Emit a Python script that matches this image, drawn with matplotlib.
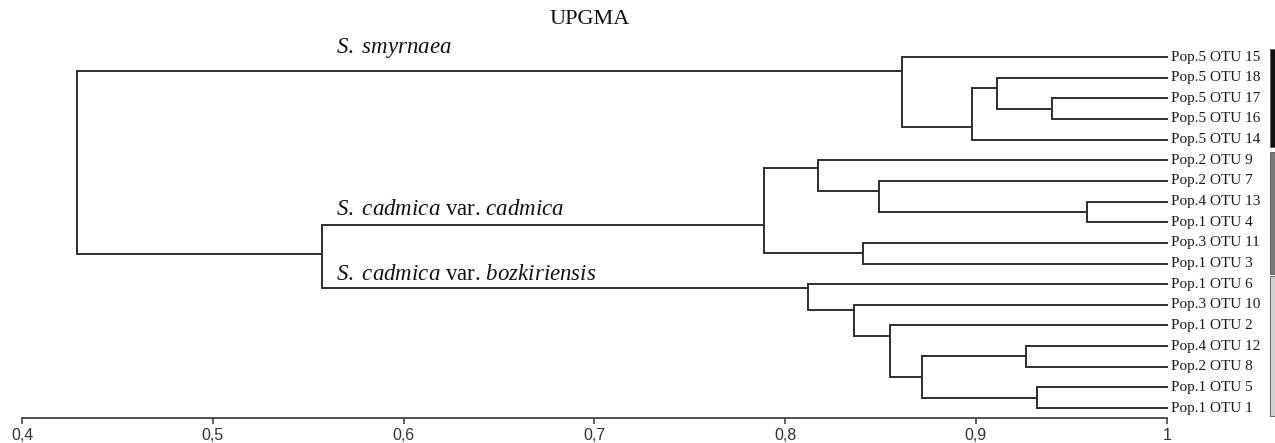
import matplotlib
matplotlib.use('Agg')
import matplotlib.pyplot as plt
from matplotlib.patches import Rectangle

plt.rcParams['mathtext.fontset'] = 'custom'
plt.rcParams['mathtext.it'] = 'Liberation Serif:italic'
plt.rcParams['mathtext.rm'] = 'Liberation Serif'

# leaves, top to bottom
leaf_labels = ['Pop.5 OTU 15', 'Pop.5 OTU 18', 'Pop.5 OTU 17', 'Pop.5 OTU 16', 'Pop.5 OTU 14',
               'Pop.2 OTU 9', 'Pop.2 OTU 7', 'Pop.4 OTU 13', 'Pop.1 OTU 4', 'Pop.3 OTU 11',
               'Pop.1 OTU 3', 'Pop.1 OTU 6', 'Pop.3 OTU 10', 'Pop.1 OTU 2', 'Pop.4 OTU 12',
               'Pop.2 OTU 8', 'Pop.1 OTU 5', 'Pop.1 OTU 1']

# UPGMA joins: node, upper child, lower child, similarity
node_names = ['n1', 'n2', 'n3', 'n4', 'n5', 'n6', 'n7', 'n8', 'n9',
              'n10', 'n11', 'n12', 'n13', 'n14', 'n15', 'n16', 'root']
node_upper = ['Pop.5 OTU 17', 'Pop.5 OTU 18', 'n2', 'Pop.5 OTU 15', 'Pop.4 OTU 13', 'Pop.2 OTU 7',
              'Pop.2 OTU 9', 'Pop.3 OTU 11', 'n7', 'Pop.4 OTU 12', 'Pop.1 OTU 5', 'n10',
              'Pop.1 OTU 2', 'Pop.3 OTU 10', 'Pop.1 OTU 6', 'n9', 'n4']
node_lower = ['Pop.5 OTU 16', 'n1', 'Pop.5 OTU 14', 'n3', 'Pop.1 OTU 4', 'n5',
              'n6', 'Pop.1 OTU 3', 'n8', 'Pop.2 OTU 8', 'Pop.1 OTU 1', 'n11',
              'n12', 'n13', 'n14', 'n15', 'n16']
node_height = [0.940, 0.911, 0.898, 0.861, 0.958, 0.849, 0.817, 0.841, 0.789,
               0.926, 0.932, 0.872, 0.855, 0.836, 0.812, 0.557, 0.429]

xticks = [0.4, 0.5, 0.6, 0.7, 0.8, 0.9, 1.0]
xtick_labels = ['0,4', '0,5', '0,6', '0,7', '0,8', '0,9', '1']

groups = [(0, 4), (5, 10), (11, 17)]
group_colors = ['#111111', '#7a7a7a', '#cfcfcf']

W, H = 1275, 443
fig = plt.figure(figsize=(W / 100, H / 100), dpi=100)
x0, x1 = 22, 1166.7
ax = fig.add_axes([x0 / W, 25 / H, (x1 - x0) / W, 418 / H])
ax.set_xlim(0.4, 1.0)
step = 20.65
ax.set_ylim((418 - 57) / step, -57 / step)

line_col = '#2e2e2e'
pos = {lab: (1.0, i, 1) for i, lab in enumerate(leaf_labels)}
for name, a, b, h in zip(node_names, node_upper, node_lower, node_height):
    xa, ya, na = pos[a]
    xb, yb, nb = pos[b]
    y = (ya * nb + yb * na) / (na + nb)
    ax.plot([xa, h, h, xb], [ya, ya, yb, yb], color=line_col, lw=1.4,
            solid_joinstyle='miter', clip_on=False)
    pos[name] = (h, y, na + nb)

for i, lab in enumerate(leaf_labels):
    ax.text(1.0025, i, lab, ha='left', va='center', fontsize=11,
            family='Liberation Serif', color='#1a1a1a')

# group bars on the right
bar_top = [g0 - 0.4 for g0, g1 in groups]
bar_bot = [groups[0][1] + 0.35, groups[2][0] - 0.5, groups[2][1] + 0.4]
for t, b, c in zip(bar_top, bar_bot, group_colors):
    ax.add_patch(Rectangle((1.0541, t), 0.0032, b - t,
                           facecolor=c, edgecolor='#555555', lw=0.6, clip_on=False))

ax.text(0.5647, -0.2, r'$S.\ smyrnaea$', fontsize=16.5, family='Liberation Serif',
        ha='left', va='baseline', color='#111111')
ax.text(0.5647, 7.65, r'$S.\ cadmica$ var. $cadmica$', fontsize=16.5,
        family='Liberation Serif', ha='left', va='baseline', color='#111111')
ax.text(0.5647, 10.8, r'$S.\ cadmica$ var. $bozkiriensis$', fontsize=16.5,
        family='Liberation Serif', ha='left', va='baseline', color='#111111')

fig.text(590 / W, 1 - 19 / H, 'UPGMA', ha='center', va='center', fontsize=16,
         family='Liberation Serif', color='#111111')

for s in ['top', 'left', 'right']:
    ax.spines[s].set_visible(False)
ax.spines['bottom'].set_color('#444444')
ax.spines['bottom'].set_linewidth(1.3)
ax.set_yticks([])
ax.set_xticks(xticks)
ax.set_xticklabels(xtick_labels, family='Liberation Sans', fontsize=11.5, color='#333333')
ax.tick_params(axis='x', direction='out', length=4.3, width=1.2, color='#444444', pad=3)

fig.savefig('out.png', dpi=100)
